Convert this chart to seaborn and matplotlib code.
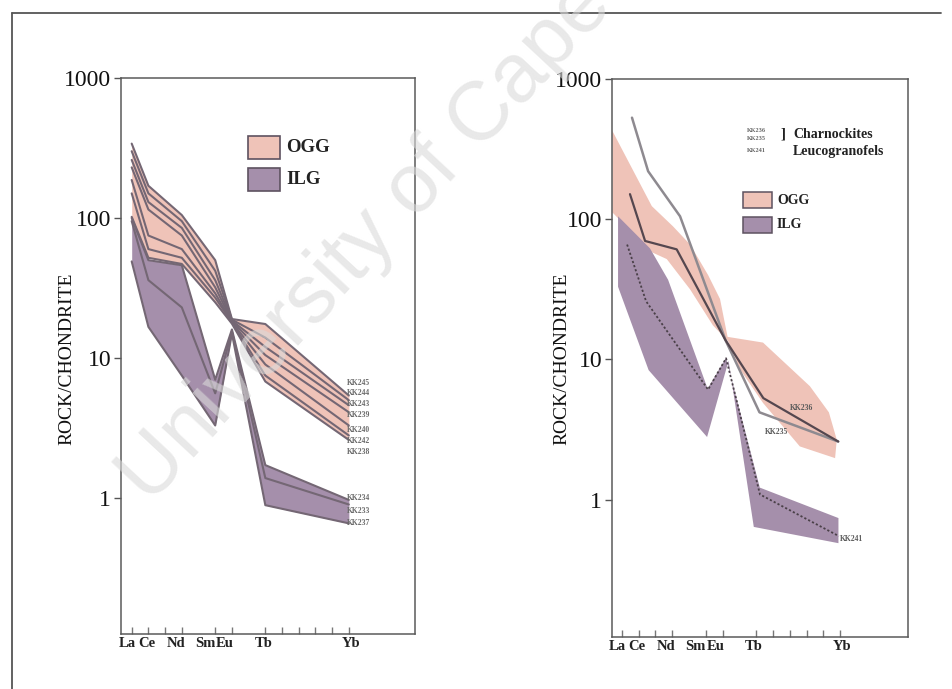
import numpy as np
import pandas as pd
import matplotlib
matplotlib.use("Agg")
import matplotlib.pyplot as plt
import matplotlib.transforms as mtrans
from matplotlib.patches import Rectangle
from matplotlib.lines import Line2D
from matplotlib.ticker import FixedLocator, FixedFormatter, NullLocator
import seaborn as sns

# ---------------- data ----------------
tick_positions = [0, 1, 2, 3, 5, 6, 8, 9, 10, 11, 12, 13]
tick_texts = ["La", "Ce", "", "Nd", "Sm", "Eu", "Tb", "", "", "", "", "Yb"]
plotted_x = [0, 1, 3, 5, 6, 8, 13]          # La Ce Nd Sm Eu Tb Yb
ytick_values = [1, 10, 100, 1000]
ytick_labels = ["1", "10", "100", "1000"]

# left panel, OGG samples (La, Ce, Nd, Sm, Eu, Tb, Yb)
kk245 = [340, 170, 105, 50, 19.0, 17.5, 5.4]
kk244 = [300, 150, 95, 42, 18.8, 14.0, 5.0]
kk243 = [260, 130, 85, 36, 18.5, 12.0, 4.6]
kk239 = [230, 115, 75, 32, 18.3, 10.5, 4.1]
kk240 = [187, 75, 60, 29, 18.0, 9.0, 3.3]
kk242 = [150, 60, 52, 27, 18.0, 7.5, 2.8]
kk238 = [102, 52, 47, 25, 17.6, 6.8, 2.6]
# left panel, ILG samples
kk234 = [100, 50, 46, 7.0, 16.0, 1.72, 0.97]
kk233 = [95, 36, 23, 5.6, 15.5, 1.39, 0.90]
kk237 = [49, 16.7, 7.5, 3.3, 15.0, 0.89, 0.66]

ogg_names = ["KK245", "KK244", "KK243", "KK239", "KK240", "KK242", "KK238"]
ilg_names = ["KK234", "KK233", "KK237"]
ogg_label_y = [6.66, 5.62, 4.69, 3.92, 3.06, 2.57, 2.12]
ilg_label_y = [1.0, 0.81, 0.66]

# right panel envelopes (position along element axis, value)
r_ogg_up_x = [-0.56, 1.79, 3.05, 4.07, 5.14, 5.85, 6.30, 8.41, 11.2, 12.33, 12.8]
r_ogg_up_y = [427, 124, 89, 66, 40, 27, 14.5, 13.2, 6.45, 4.2, 2.68]
r_ogg_lo_x = [12.7, 10.6, 8.41, 7.04, 6.33, 5.43, 4.07, 2.68, 1.68, -0.56]
r_ogg_lo_y = [1.98, 2.4, 4.9, 8.5, 13.5, 17.5, 31.6, 52, 59, 112]
r_ilg_up_x = [-0.22, 1.68, 2.76, 5.11, 6.21, 8.22, 12.9]
r_ilg_up_y = [105, 62, 37, 6.2, 10.3, 1.22, 0.74]
r_ilg_lo_x = [12.9, 7.86, 6.36, 5.08, 1.60, -0.22]
r_ilg_lo_y = [0.49, 0.64, 9.8, 2.8, 8.4, 33]

# right panel samples
kk235_x = [0.61, 1.57, 3.47, 6.18, 8.20, 12.88]
kk235_y = [530, 220, 105, 13.7, 4.2, 2.6]
kk236_x = [0.49, 1.39, 3.27, 6.15, 8.43, 12.89]
kk236_y = [151, 70, 61, 13.9, 5.3, 2.6]
kk241_x = [0.32, 1.45, 5.14, 6.21, 8.23, 12.93]
kk241_y = [66, 26, 6.1, 10.2, 1.09, 0.55]

# ---------------- style ----------------
sns.set_theme(style="white")
plt.rcParams["font.family"] = ["Liberation Serif", "DejaVu Serif"]

PINK = "#efc3b8"
PURPLE = "#a58fab"
LINE = "#746774"
EDGE = "#5e5260"

W, H = 952, 689
fig = plt.figure(figsize=(W / 100, H / 100), dpi=100)
fig.patch.set_facecolor("white")


def fx(px):
    return px / W


def fy(py):
    return 1 - py / H


axL = fig.add_axes([fx(121), fy(634), (415 - 121) / W, (634 - 78) / H])
axR = fig.add_axes([fx(612), fy(637), (908 - 612) / W, (637 - 79) / H])

# horizontal nudges (pixels) of the element labels, as in the scanned figure
label_nudge = {"La": -4, "Ce": -2, "Nd": -6, "Sm": -10, "Eu": -7, "Tb": -2, "Yb": 2, "": 0}


def style_axis(ax, xlim, ylim):
    ax.set_yscale("log")
    ax.set_xlim(*xlim)
    ax.set_ylim(*ylim)
    ax.yaxis.set_major_locator(FixedLocator(ytick_values))
    ax.yaxis.set_major_formatter(FixedFormatter(ytick_labels))
    ax.yaxis.set_minor_locator(NullLocator())
    ax.xaxis.set_major_locator(FixedLocator(tick_positions))
    ax.xaxis.set_major_formatter(FixedFormatter(tick_texts))
    ax.xaxis.set_minor_locator(NullLocator())
    ax.tick_params(axis="y", left=True, direction="out", length=5, width=1.0,
                   pad=2, labelsize=17, color="#555", labelcolor="#111")
    ax.tick_params(axis="x", bottom=True, direction="in", length=5, width=1.0,
                   pad=2, labelsize=10.5, color="#777", labelcolor="#222")
    for lab, txt in zip(ax.get_xticklabels(), tick_texts):
        lab.set_fontweight("bold")
        off = mtrans.ScaledTranslation(label_nudge[txt] / 100, 0, fig.dpi_scale_trans)
        lab.set_transform(lab.get_transform() + off)
    for s in ax.spines.values():
        s.set_color("#5a5a5a")
        s.set_linewidth(1.1)
    ax.set_xlabel("")
    ax.set_ylabel("")
    ax.set_facecolor("white")


style_axis(axL, (-0.64, 16.96), (0.107, 1000))
style_axis(axR, (-0.58, 17.04), (0.105, 1000))

# ---------------- left panel ----------------
ogg = [kk245, kk244, kk243, kk239, kk240, kk242, kk238]
ilg = [kk234, kk233, kk237]
ogg_arr = np.array(ogg)
ilg_arr = np.array(ilg)
axL.fill_between(plotted_x, ogg_arr.min(axis=0), ogg_arr.max(axis=0),
                 color=PINK, lw=0, zorder=1)
axL.fill_between(plotted_x, ilg_arr.min(axis=0), ilg_arr.max(axis=0),
                 color=PURPLE, lw=0, zorder=1.1)

rows = []
for name, vals in zip(ogg_names + ilg_names, ogg + ilg):
    for x, v in zip(plotted_x, vals):
        rows.append({"sample": name, "x": x, "value": v})
df_left = pd.DataFrame(rows)
sns.lineplot(data=df_left, x="x", y="value", units="sample", estimator=None,
             sort=False, color=LINE, lw=1.5, ax=axL, legend=False, zorder=3)
axL.set_xlabel("")
axL.set_ylabel("")

for name, y in zip(ogg_names + ilg_names, ogg_label_y + ilg_label_y):
    axL.text(12.9, y, name, fontsize=5.5, fontweight="bold", color="#6a6a6a",
             ha="left", va="center", zorder=5)

# ---------------- right panel ----------------
axR.fill(r_ogg_up_x + r_ogg_lo_x, r_ogg_up_y + r_ogg_lo_y, color=PINK, lw=0, zorder=1)
axR.fill(r_ilg_up_x + r_ilg_lo_x, r_ilg_up_y + r_ilg_lo_y, color=PURPLE, lw=0, zorder=1.1)

sns.lineplot(x=kk235_x, y=kk235_y, sort=False, estimator=None, color="#8e8a90",
             lw=1.8, ax=axR, zorder=3)
sns.lineplot(x=kk236_x, y=kk236_y, sort=False, estimator=None, color="#55474f",
             lw=1.6, ax=axR, zorder=3)
sns.lineplot(x=kk241_x, y=kk241_y, sort=False, estimator=None, color="#4a4048",
             lw=1.3, ls=(0, (1.2, 1.2)), ax=axR, zorder=3)
axR.set_xlabel("")
axR.set_ylabel("")

axR.text(10.0, 4.54, "KK236", fontsize=5.5, fontweight="bold", color="#5a5a5a",
         ha="left", va="center", zorder=5)
axR.text(8.53, 3.06, "KK235", fontsize=5.5, fontweight="bold", color="#5a5a5a",
         ha="left", va="center", zorder=5)
axR.text(13.0, 0.526, "KK241", fontsize=5.5, fontweight="bold", color="#5a5a5a",
         ha="left", va="center", zorder=5)

# ---------------- y labels ----------------
fig.text(fx(67), fy(359), "ROCK/CHONDRITE", rotation=90, ha="center", va="center",
         fontsize=14, color="#111")
fig.text(fx(562), fy(359), "ROCK/CHONDRITE", rotation=90, ha="center", va="center",
         fontsize=14, color="#111")

# ---------------- legends ----------------
for (py, face, lab) in [(147, PINK, "OGG"), (179, PURPLE, "ILG")]:
    fig.add_artist(Rectangle((fx(248), fy(py + 11.5)), 32 / W, 23 / H,
                             transform=fig.transFigure, facecolor=face,
                             edgecolor=EDGE, lw=1.2))
    fig.text(fx(286), fy(py), lab, ha="left", va="center", fontsize=13.5,
             fontweight="bold", color="#222")

for (py, face, lab) in [(200, PINK, "OGG"), (225, PURPLE, "ILG")]:
    fig.add_artist(Rectangle((fx(743), fy(py + 8)), 29 / W, 16 / H,
                             transform=fig.transFigure, facecolor=face,
                             edgecolor=EDGE, lw=1.1))
    fig.text(fx(777), fy(py), lab, ha="left", va="center", fontsize=10,
             fontweight="bold", color="#222")

fig.text(fx(747), fy(130), "KK236", ha="left", va="center", fontsize=4.5,
         fontweight="bold", color="#666")
fig.text(fx(747), fy(139), "KK235", ha="left", va="center", fontsize=4.5,
         fontweight="bold", color="#666")
fig.text(fx(781), fy(134), "]", ha="left", va="center", fontsize=11,
         fontweight="bold", color="#222")
fig.text(fx(793), fy(134), "Charnockites", ha="left", va="center", fontsize=10,
         fontweight="bold", color="#222")
fig.text(fx(747), fy(151), "KK241", ha="left", va="center", fontsize=4.5,
         fontweight="bold", color="#666")
fig.text(fx(793), fy(151), "Leucogranofels", ha="left", va="center", fontsize=10,
         fontweight="bold", color="#222")

# ---------------- page border ----------------
fig.add_artist(Line2D([fx(12), fx(941)], [fy(13), fy(13)], transform=fig.transFigure,
                      color="#555", lw=1.3))
fig.add_artist(Line2D([fx(12), fx(12)], [fy(13), fy(689)], transform=fig.transFigure,
                      color="#555", lw=1.3))

# ---------------- watermark ----------------
fig.text(fx(150), fy(505), "University of Cape Town", rotation=47,
         rotation_mode="anchor", ha="left", va="baseline", fontsize=60,
         family="Liberation Sans", color="#dadada", alpha=0.6, zorder=100)

fig.savefig("out.png", dpi=100, facecolor="white")
